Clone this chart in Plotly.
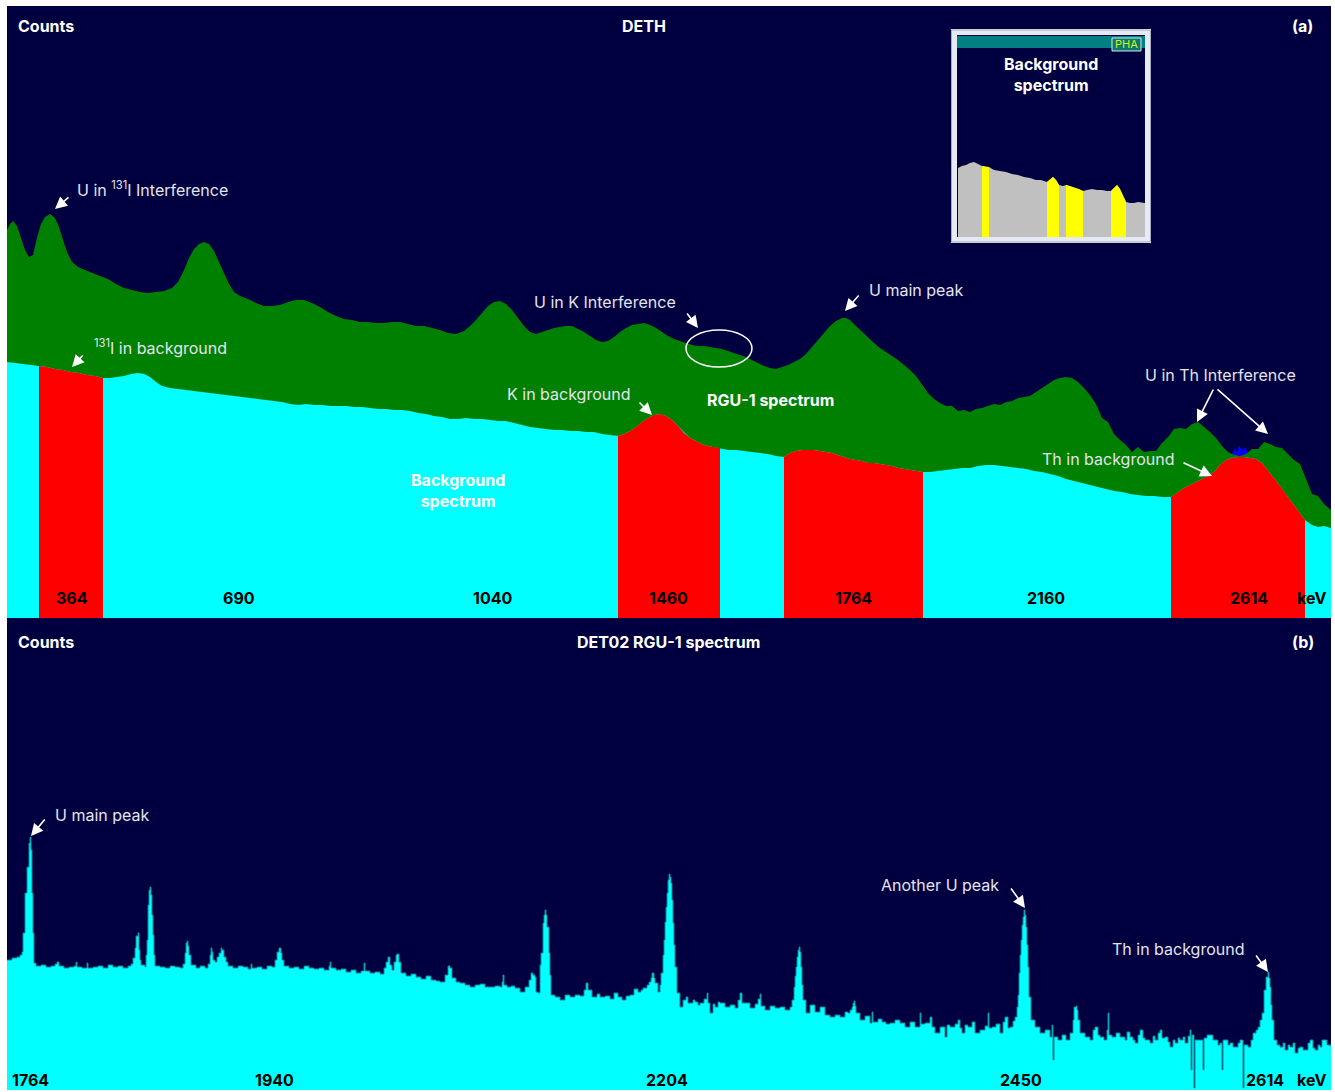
import plotly.graph_objects as go

# ---------------- Panel (a): DETH spectra ----------------
# RGU-1 reference spectrum (channel, counts)
rgu_channel = [7, 10, 13, 17, 21, 25, 29, 33, 37, 41, 45, 50, 55, 59, 63, 67, 72, 78, 85, 92,
               100, 108, 116, 124, 132, 140, 148, 156, 164, 172, 178, 184, 189, 194, 199, 204, 209, 214, 219, 224,
               229, 234, 240, 248, 256, 264, 272, 280, 288, 296, 304, 312, 320, 328, 336, 344, 352, 360, 368, 376,
               384, 392, 400, 408, 416, 424, 432, 440, 448, 456, 464, 470, 476, 482, 488, 494, 500, 506, 512, 518,
               524, 530, 536, 542, 548, 554, 560, 566, 572, 578, 584, 590, 596, 602, 608, 614, 620, 626, 632, 638,
               644, 650, 656, 662, 668, 674, 680, 686, 692, 698, 704, 710, 716, 722, 728, 734, 740, 746, 752, 758,
               764, 770, 776, 782, 788, 794, 800, 806, 812, 818, 824, 830, 836, 842, 846, 850, 856, 862, 868, 874,
               880, 886, 892, 898, 904, 910, 916, 922, 928, 934, 940, 946, 952, 958, 964, 970, 976, 982, 988, 994,
               1000, 1006, 1012, 1018, 1024, 1030, 1036, 1042, 1048, 1054, 1060, 1066, 1072, 1078, 1084, 1090, 1096, 1102, 1108, 1114,
               1120, 1126, 1132, 1138, 1144, 1150, 1156, 1162, 1168, 1174, 1180, 1186, 1192, 1198, 1204, 1210, 1216, 1222, 1228, 1234,
               1240, 1246, 1252, 1258, 1264, 1270, 1276, 1282, 1288, 1294, 1300, 1306, 1312, 1318, 1324, 1331]
rgu_counts = [388, 394, 397, 392, 380, 368, 361, 363, 380, 394, 401, 404, 400, 391, 378, 366, 356, 351, 348, 345,
              342, 339, 334, 330, 328, 326, 325, 326, 327, 330, 336, 348, 360, 369, 374, 376, 374, 367, 356, 345,
              334, 326, 322, 319, 315, 312, 312, 313, 316, 318, 318, 315, 311, 306, 302, 299, 298, 296, 296, 295,
              295, 296, 296, 294, 292, 292, 290, 288, 285, 284, 287, 292, 298, 305, 312, 316, 317, 314, 308, 300,
              292, 286, 284, 286, 288, 290, 291, 292, 292, 289, 286, 282, 278, 276, 277, 281, 286, 290, 293, 294,
              295, 293, 290, 286, 282, 279, 277, 275, 273, 272, 272, 271, 270, 269, 267, 265, 263, 261, 258, 255,
              252, 250, 249, 251, 253, 256, 259, 264, 271, 279, 286, 292, 297, 300, 300, 298, 292, 286, 280, 275,
              270, 266, 262, 258, 253, 248, 242, 234, 225, 219, 215, 212, 212, 207, 208, 206, 209, 210, 212, 214,
              213, 216, 217, 220, 221, 222, 226, 230, 234, 238, 240, 241, 240, 236, 230, 223, 214, 200, 196, 184,
              178, 173, 166, 171, 166, 167, 167, 175, 181, 189, 190, 189, 194, 196, 191, 186, 180, 172, 166, 163,
              162, 164, 169, 169, 176, 174, 171, 170, 164, 158, 154, 138, 124, 122, 114, 108]

# Background spectrum (channel, counts)
bg_channel = [7, 15, 23, 31, 39, 47, 55, 63, 71, 79, 87, 95, 103, 110, 117, 124, 131, 138, 144, 150,
              156, 162, 170, 178, 186, 194, 202, 210, 218, 226, 234, 242, 250, 258, 266, 274, 282, 290, 298, 306,
              314, 322, 330, 338, 346, 354, 362, 370, 378, 386, 394, 402, 410, 418, 426, 434, 442, 450, 458, 466,
              474, 482, 490, 498, 506, 514, 522, 530, 538, 546, 554, 562, 570, 578, 586, 594, 602, 610, 618, 624,
              630, 636, 642, 648, 654, 660, 666, 672, 678, 684, 690, 696, 702, 708, 714, 720, 728, 736, 744, 752,
              760, 768, 776, 784, 790, 796, 802, 808, 814, 820, 826, 832, 838, 844, 850, 856, 862, 868, 874, 880,
              886, 892, 898, 904, 910, 916, 923, 930, 938, 946, 954, 962, 970, 978, 986, 994, 1002, 1010, 1018, 1026,
              1034, 1042, 1050, 1058, 1066, 1074, 1082, 1090, 1098, 1106, 1114, 1122, 1130, 1138, 1146, 1154, 1162, 1171, 1178, 1184,
              1190, 1196, 1202, 1208, 1214, 1220, 1226, 1232, 1238, 1244, 1250, 1256, 1262, 1268, 1274, 1280, 1286, 1292, 1298, 1305,
              1312, 1318, 1324, 1331]
bg_counts = [256, 255, 254, 253, 252, 251, 249, 248, 246, 245, 243, 242, 240, 240, 241, 242, 244, 245, 244, 241,
             236, 232, 230, 229, 228, 227, 226, 225, 224, 223, 222, 221, 220, 219, 218, 217, 216, 214, 213, 214,
             213, 213, 212, 212, 212, 211, 211, 210, 209, 209, 208, 208, 207, 205, 204, 202, 201, 199, 199, 200,
             199, 199, 198, 197, 197, 195, 193, 191, 190, 189, 188, 188, 187, 187, 186, 186, 184, 183, 182, 184,
             187, 191, 196, 200, 203, 204, 202, 198, 192, 185, 180, 177, 174, 172, 171, 170, 168, 168, 167, 166,
             165, 164, 162, 161, 165, 167, 168, 168, 168, 167, 166, 165, 163, 161, 159, 158, 157, 155, 155, 154,
             153, 152, 150, 149, 148, 147, 146, 146, 147, 148, 149, 150, 150, 152, 153, 153, 152, 151, 150, 149,
             147, 146, 144, 142, 139, 137, 135, 133, 131, 129, 127, 126, 124, 123, 122, 122, 121, 121, 126, 130,
             133, 136, 139, 142, 146, 153, 158, 160, 161, 161, 160, 159, 155, 148, 140, 132, 124, 116, 108, 98,
             93, 91, 92, 90]

# Background counts exceeding the RGU-1 spectrum near the 2614 keV line
excess_channel = [1231, 1233, 1235, 1237, 1239, 1241, 1243, 1245, 1247, 1249, 1251]
excess_counts = [162, 166, 170, 165, 172, 170, 168, 171, 166, 163, 160]

# Regions of interest (channel windows) shown in red on the background
roi_windows = [(39, 103), (618, 720), (784, 923), (1171, 1305)]

# Energy labels (keV) and the channels they sit at
energy_labels_a = ["364", "690", "1040", "1460", "1764", "2160", "2614"]
energy_channels_a = [72, 239, 493, 668, 853, 1046, 1249]

# ---------------- Panel (b): DET02 RGU-1 spectrum ----------------
det02_channel = [7, 12, 17, 20, 22, 23, 25, 27, 29, 30, 31, 32, 33, 34, 36, 41, 46, 51, 55, 57,
                 59, 64, 69, 74, 76, 77, 82, 87, 88, 93, 98, 103, 108, 113, 118, 123, 128, 131, 133, 135,
                 136, 138, 139, 140, 141, 145, 146, 147, 148, 149, 150, 151, 152, 153, 154, 155, 160, 165, 170, 175,
                 180, 183, 185, 186, 187, 188, 189, 191, 196, 200, 205, 208, 210, 211, 212, 213, 215, 217, 219, 221,
                 222, 224, 226, 228, 233, 238, 243, 248, 251, 252, 257, 262, 267, 272, 275, 277, 279, 281, 282, 284,
                 289, 294, 299, 304, 309, 314, 319, 324, 329, 330, 331, 336, 341, 346, 351, 356, 361, 364, 365, 370,
                 375, 380, 384, 386, 388, 390, 392, 394, 396, 397, 399, 401, 406, 411, 416, 421, 426, 431, 436, 440,
                 445, 448, 450, 452, 456, 460, 465, 470, 475, 480, 485, 490, 495, 500, 502, 503, 504, 507, 511, 515,
                 520, 525, 529, 531, 533, 535, 536, 538, 540, 541, 543, 544, 545, 546, 547, 549, 550, 551, 555, 560,
                 565, 570, 575, 580, 584, 586, 588, 592, 597, 600, 605, 610, 614, 618, 622, 626, 630, 634, 638, 641,
                 643, 647, 649, 651, 652, 654, 655, 658, 660, 661, 663, 664, 665, 666, 667, 668, 669, 670, 671, 672,
                 673, 674, 675, 677, 680, 683, 686, 688, 690, 693, 695, 698, 700, 704, 707, 708, 710, 713, 715, 718,
                 720, 725, 730, 735, 738, 740, 742, 745, 750, 755, 758, 760, 761, 765, 770, 775, 780, 785, 790, 792,
                 794, 795, 796, 797, 798, 799, 800, 801, 802, 803, 806, 810, 815, 820, 825, 830, 835, 840, 845, 848,
                 850, 852, 853, 854, 855, 856, 860, 865, 870, 872, 873, 878, 882, 886, 890, 895, 900, 905, 910, 915,
                 920, 921, 925, 930, 932, 935, 940, 945, 947, 950, 955, 958, 960, 962, 965, 968, 972, 975, 980, 985,
                 988, 989, 992, 996, 1000, 1003, 1005, 1008, 1010, 1013, 1015, 1017, 1018, 1019, 1020, 1021, 1022, 1023, 1024, 1025,
                 1026, 1027, 1028, 1029, 1031, 1035, 1040, 1045, 1050, 1052, 1053, 1054, 1058, 1062, 1066, 1070, 1073, 1074, 1076, 1077,
                 1078, 1080, 1085, 1090, 1093, 1095, 1098, 1100, 1104, 1107, 1108, 1109, 1112, 1116, 1120, 1125, 1127, 1130, 1133, 1135,
                 1138, 1140, 1143, 1145, 1150, 1153, 1155, 1158, 1160, 1162, 1165, 1168, 1170, 1173, 1175, 1178, 1180, 1183, 1185, 1188,
                 1190, 1191, 1192, 1194, 1195, 1200, 1203, 1204, 1207, 1210, 1213, 1215, 1218, 1220, 1222, 1223, 1225, 1228, 1230, 1233,
                 1235, 1238, 1240, 1243, 1244, 1248, 1251, 1253, 1256, 1258, 1260, 1262, 1264, 1266, 1268, 1269, 1270, 1271, 1272, 1274,
                 1277, 1280, 1283, 1285, 1288, 1290, 1293, 1295, 1298, 1300, 1303, 1305, 1308, 1310, 1313, 1315, 1318, 1320, 1322, 1325,
                 1327, 1331]
det02_counts = [130, 132, 133, 135, 138, 157, 197, 223, 247, 253, 240, 197, 157, 127, 124, 125, 123, 124, 126, 128,
                124, 122, 123, 124, 128, 123, 122, 127, 122, 123, 124, 122, 125, 123, 124, 122, 124, 126, 132, 142,
                154, 157, 140, 130, 125, 123, 135, 150, 185, 200, 203, 195, 175, 155, 135, 124, 123, 122, 124, 123,
                122, 126, 137, 147, 149, 144, 135, 125, 122, 124, 122, 126, 135, 142, 138, 130, 128, 133, 137, 142,
                140, 133, 128, 124, 122, 124, 123, 121, 126, 122, 123, 121, 124, 123, 130, 138, 142, 137, 130, 124,
                122, 123, 121, 124, 122, 121, 122, 120, 124, 128, 122, 120, 121, 118, 120, 117, 119, 127, 119, 117,
                118, 116, 122, 128, 133, 125, 120, 128, 135, 136, 128, 117, 114, 116, 113, 111, 114, 110, 109, 108,
                115, 124, 122, 112, 108, 107, 105, 103, 105, 106, 103, 103, 104, 103, 108, 115, 105, 103, 104, 102,
                98, 103, 110, 117, 115, 113, 98, 97, 125, 137, 167, 175, 180, 175, 163, 137, 115, 95, 93, 90,
                95, 93, 95, 94, 100, 107, 100, 93, 96, 93, 94, 91, 97, 93, 90, 94, 95, 101, 98, 100,
                102, 105, 108, 112, 117, 112, 107, 98, 105, 117, 135, 150, 168, 183, 197, 210, 216, 213, 207, 190,
                167, 145, 123, 97, 83, 90, 93, 87, 87, 90, 88, 85, 87, 91, 97, 87, 77, 86, 83, 88,
                87, 83, 85, 82, 90, 97, 87, 87, 82, 86, 91, 96, 84, 80, 84, 82, 83, 80, 83, 90,
                103, 114, 123, 133, 140, 143, 138, 123, 105, 90, 77, 85, 78, 83, 75, 73, 75, 73, 78, 77,
                80, 83, 87, 89, 84, 77, 70, 74, 67, 78, 68, 71, 68, 66, 67, 70, 67, 63, 68, 63,
                77, 66, 67, 73, 63, 57, 63, 53, 65, 63, 66, 70, 62, 57, 65, 63, 68, 57, 60, 64,
                77, 62, 63, 66, 57, 68, 73, 62, 63, 69, 73, 83, 95, 117, 135, 150, 165, 173, 180, 175,
                163, 145, 123, 93, 70, 63, 57, 60, 53, 65, 30, 53, 50, 55, 50, 57, 70, 83, 84, 80,
                70, 57, 53, 50, 60, 63, 55, 53, 50, 60, 77, 55, 53, 57, 53, 50, 58, 53, 50, 47,
                55, 60, 52, 50, 47, 54, 50, 57, 60, 52, 53, 48, 43, 50, 47, 52, 50, 53, 47, 54,
                60, 20, 55, 2, 50, 50, 20, 52, 55, 55, 50, 50, 45, 47, 20, 50, 50, 45, 47, 43,
                43, 47, 50, 2, 45, 43, 50, 57, 60, 63, 70, 77, 100, 113, 118, 112, 103, 85, 70, 50,
                45, 43, 47, 40, 45, 43, 47, 37, 42, 43, 40, 40, 47, 50, 42, 40, 45, 43, 50, 50,
                45, 43]

energy_labels_b = ["1764", "1940", "2204", "2450", "2614"]
energy_channels_b = [30, 274, 667, 1021, 1265]

# ---------------- Inset: PHA background spectrum ----------------
inset_channel = [0, 4, 8, 12, 16, 20, 24, 28, 31, 36, 42, 48, 54, 60, 66, 72, 78, 83, 89, 92,
                 95, 98, 101, 105, 108, 112, 117, 121, 125, 129, 134, 139, 144, 149, 153, 156, 159, 162, 165, 168,
                 172, 176, 180, 184, 187]
inset_counts = [69, 71, 72, 74, 75, 73, 71, 70, 70, 67, 66, 65, 63, 62, 60, 59, 57, 57, 55, 58,
                60, 57, 52, 51, 52, 51, 49, 48, 46, 47, 48, 47, 47, 46, 46, 49, 52, 48, 41, 35,
                34, 34, 35, 34, 34]
inset_windows = [(24, 31), (89, 101), (108, 125), (153, 168)]

# ---------------- Styling ----------------
NAVY = "#000040"
GREEN = "#008000"
CYAN = "#00ffff"
RED = "#ff0000"
BLUE = "#0000ff"
LABEL = "#e4e4ee"
FONT = "Inter"


def window(xs, ys, lo, hi):
    pts = [(x, y) for x, y in zip(xs, ys) if lo <= x <= hi]
    return [p[0] for p in pts], [p[1] for p in pts]


def area(xs, ys, color, xa="x", ya="y", shape="linear", line=None):
    return go.Scatter(
        x=xs, y=ys, mode="lines", xaxis=xa, yaxis=ya,
        line=line or dict(width=0, color=color, shape=shape),
        fill="tozeroy", fillcolor=color, hoverinfo="skip", showlegend=False,
    )


fig = go.Figure()

# panel (a)
fig.add_trace(area(excess_channel, excess_counts, BLUE))
fig.add_trace(area(rgu_channel, rgu_counts, GREEN))
fig.add_trace(area(bg_channel, bg_counts, CYAN))
for lo, hi in roi_windows:
    wx, wy = window(bg_channel, bg_counts, lo, hi)
    fig.add_trace(area(wx, wy, RED))

# panel (b)
fig.add_trace(area(det02_channel, det02_counts, CYAN, "x2", "y2",
                   line=dict(width=1, color="#0a8a98", shape="hv")))

# inset
fig.add_trace(area(inset_channel, inset_counts, "#c0c0c0", "x3", "y3"))
for lo, hi in inset_windows:
    wx, wy = window(inset_channel, inset_counts, lo, hi)
    fig.add_trace(area(wx, wy, "#ffff00", "x3", "y3"))

hidden = dict(showgrid=False, zeroline=False, showticklabels=False, ticks="", showline=False, fixedrange=True)
SPLIT = 0.4354
fig.update_layout(
    width=1335, height=1092,
    margin=dict(l=7, r=4, t=6, b=2),
    paper_bgcolor="white", plot_bgcolor=NAVY,
    xaxis=dict(hidden, domain=[0, 1], range=[7, 1331], anchor="y"),
    yaxis=dict(hidden, domain=[SPLIT, 1], range=[0, 612], anchor="x"),
    xaxis2=dict(hidden, domain=[0, 1], range=[7, 1331], anchor="y2"),
    yaxis2=dict(hidden, domain=[0, SPLIT], range=[0, 472], anchor="x2"),
    xaxis3=dict(hidden, domain=[0.71828, 0.85952], range=[0, 187], anchor="y3"),
    yaxis3=dict(hidden, domain=[0.78690, 0.96125], range=[0, 189], anchor="x3"),
    showlegend=False,
)

ann = []


def text(x, y, s, ref="", color="white", size=16, bold=False, anchor="left"):
    ann.append(dict(x=x, y=y, xref="x" + ref, yref="y" + ref, text=f"<b>{s}</b>" if bold else s,
                    showarrow=False, xanchor=anchor, yanchor="middle",
                    font=dict(family=FONT, size=size, color=color)))


def arrow(x, y, ax, ay, ref=""):
    ann.append(dict(x=x, y=y, ax=ax, ay=ay, xref="x" + ref, yref="y" + ref,
                    axref="x" + ref, ayref="y" + ref, text="", showarrow=True,
                    arrowhead=2, arrowsize=1.5, arrowwidth=1.6, arrowcolor="white"))


# panel (a) headings
text(16, 592, "Counts", bold=True)
text(644, 592, "DETH", bold=True, anchor="center")
text(1302, 592, "(a)", bold=True, anchor="center")
for lab, ch in zip(energy_labels_a, energy_channels_a):
    text(ch, 20, lab, color="black", bold=True, anchor="center")
text(1311, 20, "keV", color="black", bold=True, anchor="center")
text(458, 128, "Background<br>spectrum", bold=True, anchor="center")
text(770, 218, "RGU-1 spectrum", bold=True, anchor="center")

# panel (a) callouts
text(75, 429, "U in <sup>131</sup>I Interference", color=LABEL)
arrow(55, 409, 70, 422)
text(92, 271, "<sup>131</sup>I in background", color=LABEL)
arrow(72, 251, 84, 264)
text(532, 316, "U in K Interference", color=LABEL)
arrow(698, 290, 686, 306)
text(867, 328, "U main peak", color=LABEL)
arrow(845, 307, 860, 324)
text(505, 224, "K in background", color=LABEL)
arrow(652, 203, 638, 217)
text(1143, 243, "U in Th Interference", color=LABEL)
arrow(1197, 196, 1214, 230)
arrow(1268, 184, 1216, 230)
text(1040, 159, "Th in background", color=LABEL)
arrow(1212, 142, 1182, 156)

# panel (b) headings
text(16, 448, "Counts", ref="2", bold=True)
text(668, 448, "DET02 RGU-1 spectrum", ref="2", bold=True, anchor="center")
text(1303, 448, "(b)", ref="2", bold=True, anchor="center")
for lab, ch in zip(energy_labels_b, energy_channels_b):
    text(ch, 10, lab, ref="2", color="black", bold=True, anchor="center")
text(1311, 10, "keV", ref="2", color="black", bold=True, anchor="center")

# panel (b) callouts
text(53, 275, "U main peak", ref="2", color=LABEL)
arrow(31, 254, 46, 272, ref="2")
text(879, 205, "Another U peak", ref="2", color=LABEL)
arrow(1025, 182, 1010, 203, ref="2")
text(1110, 141, "Th in background", ref="2", color=LABEL)
arrow(1268, 118, 1255, 136, ref="2")

# inset heading and PHA tag
ann.append(dict(x=0.78852, y=0.93681, xref="paper", yref="paper", text="<b>Background<br>spectrum</b>",
                showarrow=False, xanchor="center", yanchor="middle",
                font=dict(family=FONT, size=16, color="white")))
ann.append(dict(x=0.84554, y=0.96450, xref="paper", yref="paper", text="PHA",
                showarrow=False, xanchor="center", yanchor="middle",
                font=dict(family=FONT, size=11, color="#d4f020")))

shapes = [
    # ellipse around the U contribution in the K window
    dict(type="circle", xref="x", yref="y", x0=686, x1=752, y0=251, y1=288,
         line=dict(color="white", width=1.5), layer="above"),
    # inset frame
    dict(type="rect", xref="paper", yref="paper", x0=0.71526, x1=0.86178, y0=0.78413, y1=0.97601,
         line=dict(color="#e6eaf4", width=6), layer="above"),
    dict(type="rect", xref="paper", yref="paper", x0=0.71337, x1=0.86367, y0=0.78229, y1=0.97785,
         line=dict(color="#a8acc0", width=1), layer="above"),
    # inset title bar
    dict(type="rect", xref="paper", yref="paper", x0=0.71752, x1=0.85952, y0=0.96125, y1=0.97232,
         fillcolor="#008080", line=dict(width=0), layer="above"),
    dict(type="rect", xref="paper", yref="paper", x0=0.83459, x1=0.85650, y0=0.95849, y1=0.97048,
         fillcolor="#0a7a6e", line=dict(color="#d8e8e8", width=1), layer="above"),
]
fig.update_layout(annotations=ann, shapes=shapes)

fig.write_html("out.html")
